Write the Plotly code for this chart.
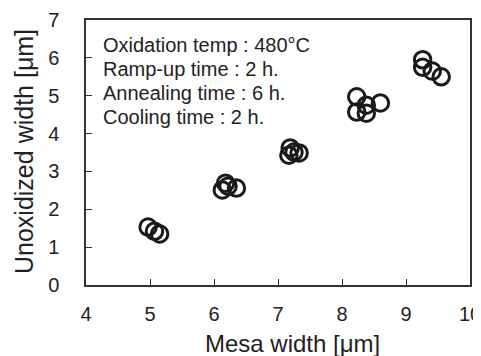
import plotly.graph_objects as go

mesa_width = [4.97, 5.07, 5.15,
              6.13, 6.18, 6.22, 6.35,
              7.17, 7.19, 7.25, 7.33,
              8.23, 8.23, 8.38, 8.38, 8.60,
              9.26, 9.26, 9.41, 9.55]
unoxidized_width = [1.53, 1.42, 1.35,
                    2.51, 2.69, 2.61, 2.56,
                    3.43, 3.62, 3.51, 3.49,
                    4.97, 4.57, 4.54, 4.75, 4.81,
                    5.95, 5.75, 5.65, 5.50]
x_ticks = [4, 5, 6, 7, 8, 9, 10]
y_ticks = [0, 1, 2, 3, 4, 5, 6, 7]
note_lines = ["Oxidation temp : 480°C", "Ramp-up time : 2 h.",
              "Annealing time : 6 h.", "Cooling time : 2 h."]

FONT = "Liberation Sans, Arial, sans-serif"
INK = "#222222"
OFF = 8  # page body margin
W, H = 481, 356 - OFF
L, R, T, B = 86 - OFF, 481 + OFF - 470, 20 - OFF, 71
PW, PH = W - L - R, H - T - B


def px(sx):
    return (sx - OFF - L) / PW


def py(sy):
    return (H - B - (sy - OFF)) / PH


fig = go.Figure()
fig.add_trace(go.Scatter(
    x=mesa_width, y=unoxidized_width, mode="markers",
    marker=dict(symbol="circle-open", size=16.5, color="#1a1a1a",
                line=dict(width=3, color="#1a1a1a")),
    showlegend=False))

axis_common = dict(showgrid=False, zeroline=False, showline=True, automargin=False,
                   linecolor="#333333", linewidth=1.5, mirror=True,
                   ticks="inside", ticklen=6, tickwidth=1, tickcolor="#333333",
                   ticklabeloverflow="allow",
                   tickfont=dict(family=FONT, size=20, color=INK))
fig.update_xaxes(range=[4, 10], tickvals=x_ticks, ticklabelstandoff=10,
                 **axis_common)
fig.update_yaxes(range=[0, 7], tickvals=y_ticks, ticklabelstandoff=21,
                 **axis_common)

line_y = [45, 69, 93, 117]
for txt, sy in zip(note_lines, line_y):
    fig.add_annotation(text=txt, xref="paper", yref="paper",
                       x=px(101), y=py(sy),
                       xanchor="left", yanchor="middle", showarrow=False,
                       font=dict(family=FONT, size=20, color=INK))
fig.add_annotation(text="Mesa width [μm]", xref="paper", yref="paper",
                   x=px(292), y=py(343),
                   xanchor="center", yanchor="middle",
                   showarrow=False, font=dict(family=FONT, size=24, color=INK))
fig.add_annotation(text="Unoxidized width [μm]", xref="paper", yref="paper",
                   x=px(24), y=py(152),
                   xanchor="center", yanchor="middle", textangle=-90,
                   showarrow=False, font=dict(family=FONT, size=25, color=INK))

fig.update_layout(width=W, height=H,
                  margin=dict(l=L, r=R, t=T, b=B, autoexpand=False),
                  plot_bgcolor="white", paper_bgcolor="white")
fig.write_html("out.html")
